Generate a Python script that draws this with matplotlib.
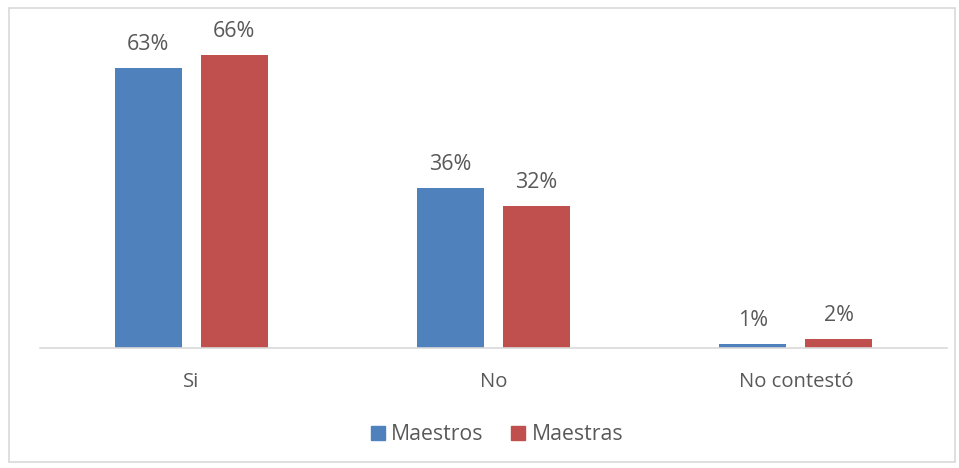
import matplotlib
matplotlib.use("Agg")
import matplotlib.pyplot as plt
import numpy as np
from matplotlib.patches import Rectangle, Patch

categories = ["Si", "No", "No contestó"]
maestros = [63, 36, 1]
maestras = [66, 32, 2]
series_names = ["Maestros", "Maestras"]

blue = "#4F81BD"
red = "#C0504D"
text_gray = "#595959"

plt.rcParams['font.family'] = ['Open Sans', 'DejaVu Sans']

fig = plt.figure(figsize=(9.59, 4.68), dpi=100)
W, H = 959, 468
# axes in pixel coords: x 40..947, y 20..348
ax = fig.add_axes([40 / W, (H - 348) / H, (947 - 40) / W, (348 - 20) / H])

x = np.arange(len(categories))
width = 0.222
off = 0.1425
b1 = ax.bar(x - off, maestros, width, color=blue, label=series_names[0])
b2 = ax.bar(x + off, maestras, width, color=red, label=series_names[1])

for bars, vals in ((b1, maestros), (b2, maestras)):
    for bar, v in zip(bars, vals):
        ax.annotate(f"{v}%", (bar.get_x() + bar.get_width() / 2, bar.get_height()),
                    xytext=(0, 13), textcoords="offset pixels", ha="center", va="bottom",
                    fontsize=15.5, color=text_gray)

ax.set_xlim(-0.5, 2.5)
ax.set_ylim(0, 73.9)
ax.set_xticks(x)
ax.set_xticklabels(categories, fontsize=14.6, color=text_gray)
ax.tick_params(axis="x", length=0, pad=17)
ax.set_yticks([])
for s in ["top", "right", "left"]:
    ax.spines[s].set_visible(False)
ax.spines["bottom"].set_color("#D9D9D9")
ax.spines["bottom"].set_linewidth(1.2)

handles = [Patch(color=blue), Patch(color=red)]
fig.legend(handles, series_names, loc="center", bbox_to_anchor=(497 / W, (H - 435) / H),
           ncol=2, frameon=False, fontsize=15.3, labelcolor=text_gray,
           handlelength=0.65, handleheight=0.65, handletextpad=0.3, columnspacing=1.3)

fig.patches.append(Rectangle((9 / W, 6 / H), (946) / W, (454) / H, transform=fig.transFigure,
                             fill=False, edgecolor="#D9D9D9", linewidth=1.2))

fig.savefig("out.png", dpi=100)
